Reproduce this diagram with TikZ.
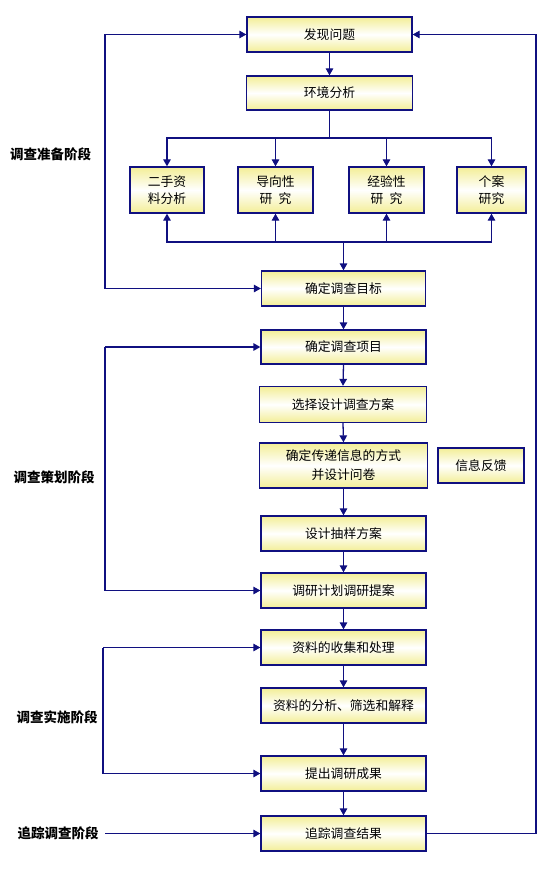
\documentclass[tikz,border=0pt]{standalone}
\usepackage{fontspec}
\setmainfont{Noto Sans CJK SC}
\usetikzlibrary{arrows.meta}
\definecolor{navy}{RGB}{16,16,128}
\definecolor{boxy}{RGB}{243,238,150}
\tikzset{
  box/.style={draw=navy, line width=1.3pt, top color=boxy, bottom color=boxy, middle color=white,
    minimum width=165pt, minimum height=35pt, inner sep=1pt, align=center,
    font=\fontsize{12.8}{17}\selectfont, text=black},
  small/.style={box, minimum width=74pt, minimum height=46pt},
  stage/.style={font=\fontsize{13.5}{16}\selectfont\bfseries, text=black, inner sep=1pt},
  arr/.style={draw=navy, line width=1.3pt, -{Triangle[length=7pt,width=7.5pt]}},
  ln/.style={draw=navy, line width=1.3pt}
}
\begin{document}
\begin{tikzpicture}[x=1pt,y=-1pt]
\useasboundingbox (0,0) rectangle (546,869);
% main boxes
\node[box] (top) at (329.5,34.5) {发现问题};
\node[box, minimum width=166pt, minimum height=34pt] (env) at (329.5,93) {环境分析};
\node[small] (b1) at (167,190) {二手资\\料分析};
\node[small, minimum width=75pt] (b2) at (275.5,190) {导向性\\研\enspace 究};
\node[small, minimum width=75pt] (b3) at (386.5,190) {经验性\\研\enspace 究};
\node[small, minimum width=69pt] (b4) at (491.5,190) {个案\\研究};
\node[box, minimum width=164pt] (goal) at (343.5,288.5) {确定调查目标};
\node[box, minimum height=34pt] (item) at (343.5,347) {确定调查项目};
\node[box, minimum width=167pt, minimum height=36pt] (plan) at (343,404.5) {选择设计调查方案};
\node[box, minimum width=168pt, minimum height=45pt, font=\fontsize{12.8}{19}\selectfont] (info) at (343.5,465.5) {确定传递信息的方式\\并设计问卷};
\node[box, minimum width=86pt] (fb) at (481,465.5) {信息反馈};
\node[box] (sample) at (343.5,533.5) {设计抽样方案};
\node[box] (prop) at (343.5,590.5) {调研计划调研提案};
\node[box] (coll) at (343.5,647.5) {资料的收集和处理};
\node[box] (anal) at (343.5,705.5) {资料的分析、筛选和解释};
\node[box] (res) at (343.5,773.5) {提出调研成果};
\node[box] (track) at (343.5,833.5) {追踪调查结果};
% stage labels
\node[stage] (s1) at (50.5,154) {调查准备阶段};
\node[stage] (s2) at (54,477) {调查策划阶段};
\node[stage] (s3) at (57,717) {调查实施阶段};
\node[stage] (s4) at (58,833.5) {追踪调查阶段};
% top chain
\draw[arr] (top.south) -- (env.north);
\coordinate (ubus) at (329.5,138);
\draw[ln] (env.south) -- (ubus);
\foreach \b in {b1,b2,b3,b4} \draw[arr] (ubus) -| (\b.north);
\coordinate (lbus) at (343.5,242);
\foreach \b in {b1,b2,b3,b4} \draw[arr] (lbus) -| (\b.south);
\draw[arr] (lbus) -- (goal.north);
% main chain
\draw[arr] (goal.south) -- (item.north);
\draw[arr] (item.south) -- (plan.north);
\draw[arr] (plan.south) -- (info.north);
\draw[arr] (info.south) -- (sample.north);
\draw[arr] (sample.south) -- (prop.north);
\draw[arr] (prop.south) -- (coll.north);
\draw[arr] (coll.south) -- (anal.north);
\draw[arr] (anal.south) -- (res.north);
\draw[arr] (res.south) -- (track.north);
% left brackets
\coordinate (lx) at (105,0);
\coordinate (lx3) at (103,0);
\draw[arr] (top.west -| lx) -- (top.west);
\draw[arr] (top.west -| lx) |- (goal.west);
\draw[arr] (item.west -| lx) -- (item.west);
\draw[arr] (item.west -| lx) |- (prop.west);
\draw[arr] (coll.west -| lx3) -- (coll.west);
\draw[arr] (coll.west -| lx3) |- (res.west);
\draw[arr] (s4.east -| lx) -- (track.west);
% feedback loop on the right
\coordinate (rx) at (536,0);
\draw[arr] (track.east) -| (rx |- top.east) -- (top.east);
\end{tikzpicture}
\end{document}
